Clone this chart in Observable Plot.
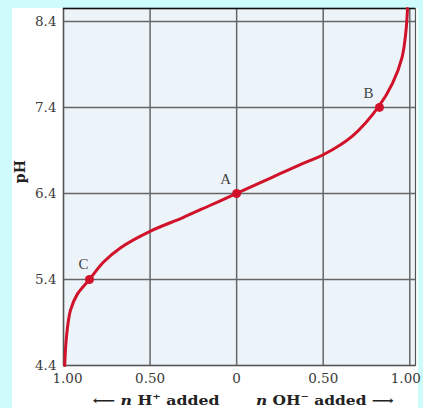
<!DOCTYPE html>
<html><head><meta charset="utf-8">
<script src="https://cdn.jsdelivr.net/npm/d3@7"></script>
<script src="https://cdn.jsdelivr.net/npm/@observablehq/plot@0.6"></script>
<style>
html,body{margin:0;padding:0;background:#cefcfd;width:423px;height:408px;overflow:hidden}
#bg{position:absolute;left:12px;top:8px;background:#fff;width:406px;height:400px}
#chart{position:absolute;left:12px;top:8px;width:411px;height:400px}
</style></head><body><div id="bg"></div><div id="chart"></div>
<script>
// titration curve (x: fraction added, negative = H+ side)
const curveX  = [-0.993, -0.983, -0.96, -0.92, -0.85, -0.77, -0.67, -0.5, -0.31, -0.155, 0, 0.186, 0.377, 0.5, 0.67, 0.82, 0.9, 0.955, 0.978, 0.987];
const curvePH = [4.4, 4.73, 5.04, 5.23, 5.4, 5.6, 5.77, 5.96, 6.12, 6.26, 6.4, 6.57, 6.745, 6.85, 7.07, 7.41, 7.68, 7.98, 8.29, 8.55];
const pointNames = ["A", "B", "C"];
const pointX  = [0, 0.825, -0.85];
const pointPH = [6.4, 7.4, 5.4];
const xTicks = [-1, -0.5, 0, 0.5, 1];
const xTickLabels = ["1.00", "0.50", "0", "0.50", "1.00"];
const yTicks = [4.4, 5.4, 6.4, 7.4, 8.4];
const yTickLabels = ["4.4", "5.4", "6.4", "7.4", "8.4"];
const yTitle = "pH";
const xTitleLeft = ["n", " H", "+", " added"];
const xTitleRight = ["n", " OH", "−", " added"];

const curve = curveX.map((x, i) => ({x, y: curvePH[i]}));
const pts = pointNames.map((name, i) => ({name, x: pointX[i], y: pointPH[i]}));
const red = "#d0122a";
const serif = "'DejaVu Serif', 'Liberation Serif', serif";
const times = "'Liberation Serif', serif";

const chart = Plot.plot({
  width: 411, height: 400,
  marginLeft: 51, marginRight: 8, marginTop: 0, marginBottom: 43,
  style: {fontFamily: serif, fontSize: "13.5px", color: "#3a3a3a", background: "transparent", overflow: "visible"},
  x: {domain: [-1, 1.033]},
  y: {domain: [4.4, 8.55]},
  marks: [
    Plot.frame({fill: "#edf4f9", stroke: null}),
    Plot.ruleX(xTicks, {stroke: "#666", strokeWidth: 1.5}),
    Plot.ruleY(yTicks, {stroke: "#666", strokeWidth: 1.5}),
    Plot.frame({stroke: "#555", strokeWidth: 1.2}),
    Plot.ruleY([8.55], {stroke: "#111", strokeWidth: 1.5}),
    Plot.axisX({ticks: xTicks, tickFormat: d => xTickLabels[xTicks.indexOf(d)], tickSize: 0, tickPadding: 8, label: null, className: "xax"}),
    Plot.axisY({ticks: yTicks, tickFormat: d => yTickLabels[yTicks.indexOf(d)], tickSize: 0, tickPadding: 7, label: null}),
    Plot.line(curve, {x: "x", y: "y", stroke: red, strokeWidth: 3, curve: "catmull-rom"}),
    Plot.dot(pts, {x: "x", y: "y", r: 4.5, fill: red}),
    Plot.text(pts.filter(p => p.name !== "C"), {x: "x", y: "y", text: "name", dx: -11, dy: -14, fill: "#444", fontSize: 15, fontFamily: times}),
    Plot.text(pts.filter(p => p.name === "C"), {x: "x", y: "y", text: "name", dx: -6, dy: -15, fill: "#444", fontSize: 15, fontFamily: times}),
    Plot.text([yTitle], {frameAnchor: "left", y: [6.52], text: d => d, rotate: -90, dx: -43, fontWeight: "bold", fontSize: 14, fill: "#222"}),
    Plot.text(["L"], {x: [-0.466], y: [4.4], text: d => d, dy: 35, fontWeight: "bold", fontSize: 12.5, fill: "#222", className: "tl-left"}),
    Plot.text(["R"], {x: [0.51], y: [4.4], text: d => d, dy: 35, fontWeight: "bold", fontSize: 12.5, fill: "#222", className: "tl-right"})
  ]
});
document.getElementById("chart").appendChild(chart);

// nudge the outermost x tick labels inward, as in the original
const xt = d3.select(chart).selectAll("text").filter(function () { return this.textContent === "1.00"; }).nodes();
if (xt.length === 2) {
  d3.select(xt[0]).attr("dx", 4);
  d3.select(xt[1]).attr("dx", -4);
}

function richLabel(sel, parts, arrowLeft, len) {
  const t = d3.select(chart).select(sel + " text");
  t.text(null).attr("textLength", len).attr("lengthAdjust", "spacingAndGlyphs");
  if (arrowLeft) t.append("tspan").text("⟵ ");
  t.append("tspan").attr("font-style", "italic").text(parts[0]);
  t.append("tspan").text(parts[1]);
  t.append("tspan").attr("font-size", 8).attr("dy", -6).text(parts[2]);
  t.append("tspan").attr("dy", 6).text(parts[3]);
  if (!arrowLeft) t.append("tspan").text(" ⟶");
}
richLabel(".tl-left", xTitleLeft, true, 127);
richLabel(".tl-right", xTitleRight, false, 138);
</script></body></html>
